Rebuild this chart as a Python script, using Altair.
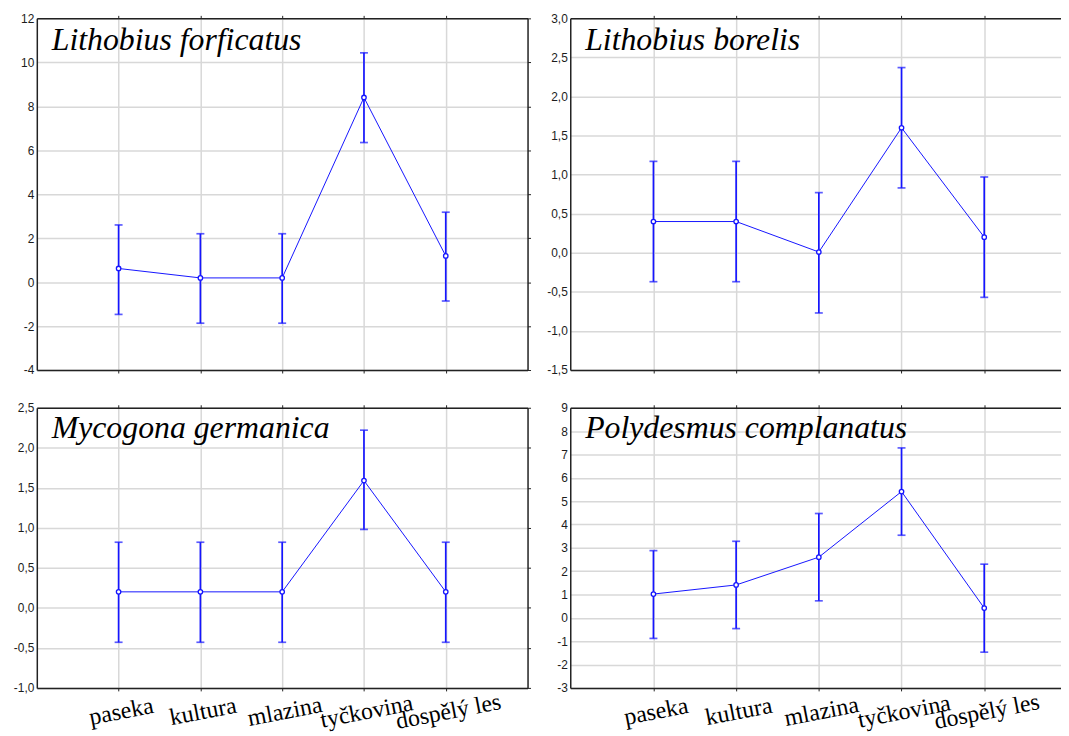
import altair as alt
import pandas as pd

kategorie = ["paseka", "kultura", "mlazina", "tyčkovina", "dospělý les"]

lf_nazev = "Lithobius forficatus"
lf_prumer = [0.62, 0.19, 0.19, 8.4, 1.19]
lf_dolni = [-1.47, -1.87, -1.87, 6.35, -0.86]
lf_horni = [2.6, 2.2, 2.2, 10.43, 3.18]
lf_osa = [-4, -2, 0, 2, 4, 6, 8, 10, 12]

lb_nazev = "Lithobius borelis"
lb_prumer = [0.4, 0.4, 0.01, 1.6, 0.2]
lb_dolni = [-0.37, -0.37, -0.77, 0.83, -0.57]
lb_horni = [1.17, 1.17, 0.77, 2.37, 0.97]
lb_osa = [-1.5, -1.0, -0.5, 0.0, 0.5, 1.0, 1.5, 2.0, 2.5, 3.0]

mg_nazev = "Mycogona germanica"
mg_prumer = [0.2, 0.2, 0.2, 1.59, 0.2]
mg_dolni = [-0.43, -0.43, -0.43, 0.98, -0.43]
mg_horni = [0.82, 0.82, 0.82, 2.22, 0.82]
mg_osa = [-1.0, -0.5, 0.0, 0.5, 1.0, 1.5, 2.0, 2.5]

pc_nazev = "Polydesmus complanatus"
pc_prumer = [1.02, 1.41, 2.6, 5.41, 0.42]
pc_dolni = [-0.88, -0.46, 0.73, 3.54, -1.47]
pc_horni = [2.88, 3.28, 4.47, 7.28, 2.3]
pc_osa = [-3, -2, -1, 0, 1, 2, 3, 4, 5, 6, 7, 8, 9]

BLUE = "#1515ff"
FRAME = "#222222"
GRID = "#d8d8d8"


def panel(nazev, prumer, dolni, horni, osa, desetinne, popisky, vpravo,
          sirka, vyska, title_y, odsazeni=1, zarovnani=0.5):
    df = pd.DataFrame({"kategorie": kategorie, "prumer": prumer,
                       "dolni": dolni, "horni": horni})
    xscale = alt.Scale(type="point", domain=kategorie, padding=odsazeni,
                       align=zarovnani)
    yscale = alt.Scale(domain=[osa[0], osa[-1]], nice=False, zero=False)
    if desetinne:
        lexpr = "replace(replace(format(datum.value, '.1f'), '.', ','), '\u2212', '-')"
    else:
        lexpr = "replace(format(datum.value, 'd'), '\u2212', '-')"

    x_axis = alt.Axis(orient="bottom", title=None, grid=True, gridColor=GRID,
                      gridWidth=1.5, labels=popisky, ticks=True, tickSize=3,
                      tickColor=FRAME, domain=True, domainColor=FRAME,
                      domainWidth=1.5, labelAngle=-11, labelAlign="center",
                      labelBaseline="top", labelFont="Liberation Serif",
                      labelFontSize=24, labelColor="black", labelPadding=9,
                      labelOverlap=False)
    y_axis = alt.Axis(orient="left", title=None, values=osa, grid=True,
                      gridColor=GRID, gridWidth=1.5, ticks=False, domain=True,
                      domainColor=FRAME, domainWidth=1.5, labelExpr=lexpr,
                      labelFont="Liberation Sans", labelFontSize=12,
                      labelColor="#1c1c1c", labelPadding=3, labelFlush=False,
                      labelOverlap=False)

    X = alt.X("kategorie:N", scale=xscale, axis=x_axis, sort=kategorie)

    def Y(f):
        return alt.Y(f"{f}:Q", scale=yscale, axis=y_axis)

    base = alt.Chart(df)
    line = base.mark_line(color=BLUE, strokeWidth=1).encode(x=X, y=Y("prumer"))
    bars = base.mark_rule(color=BLUE, strokeWidth=1.7).encode(
        x=X, y=Y("dolni"), y2="horni:Q")
    cap_lo = base.mark_tick(color=BLUE, thickness=1.7, size=8).encode(x=X, y=Y("dolni"))
    cap_hi = base.mark_tick(color=BLUE, thickness=1.7, size=8).encode(x=X, y=Y("horni"))
    pts = base.mark_point(shape="circle", size=20, fill="white", fillOpacity=1,
                          stroke=BLUE, strokeWidth=1.3, opacity=1).encode(
        x=X, y=Y("prumer"))
    inner = alt.layer(line, bars, cap_lo, cap_hi, pts)

    top_axis = alt.Axis(orient="top", title=None, labels=False, grid=False,
                        ticks=True, tickSize=3, tickColor=FRAME, domain=True,
                        domainColor=FRAME, domainWidth=1.5)
    if vpravo:
        y_extra = alt.Y("prumer:Q", scale=yscale,
                        axis=alt.Axis(orient="right", title=None, labels=False,
                                      grid=False, ticks=True, tickSize=3,
                                      tickColor=FRAME, values=osa, domain=True,
                                      domainColor=FRAME, domainWidth=1.5))
    else:
        y_extra = alt.Y("prumer:Q", scale=yscale, axis=None)
    extra = base.mark_point(opacity=0).encode(
        x=alt.X("kategorie:N", scale=xscale, axis=top_axis, sort=kategorie),
        y=y_extra)

    title = alt.Chart(pd.DataFrame({"nazev": [nazev]})).mark_text(
        font="Liberation Serif", fontStyle="italic", fontSize=32, align="left",
        baseline="alphabetic", color="black").encode(
        text="nazev:N", x=alt.value(15), y=alt.value(title_y))

    return alt.layer(inner, extra, title).resolve_axis(
        x="independent", y="independent").properties(width=sirka, height=vyska)


tl = panel(lf_nazev, lf_prumer, lf_dolni, lf_horni, lf_osa, False, False, True,
           494, 354, 32)
tr = panel(lb_nazev, lb_prumer, lb_dolni, lb_horni, lb_osa, True, False, False,
           494, 354, 32, odsazeni=0.967, zarovnani=0.52)
bl = panel(mg_nazev, mg_prumer, mg_dolni, mg_horni, mg_osa, True, True, True,
           494, 282, 30)
br = panel(pc_nazev, pc_prumer, pc_dolni, pc_horni, pc_osa, False, True, False,
           494, 282, 30, odsazeni=0.967, zarovnani=0.52)

chart = alt.concat(tl, tr, bl, br, columns=2,
                   spacing=alt.RowColnumber(row=38, column=43),
                   bounds="flush").properties(
    padding={"left": 5, "top": 2, "right": 0, "bottom": 0},
    background="white").configure_view(stroke=None)

chart.save("out.html", embed_options={"renderer": "svg", "actions": False})
